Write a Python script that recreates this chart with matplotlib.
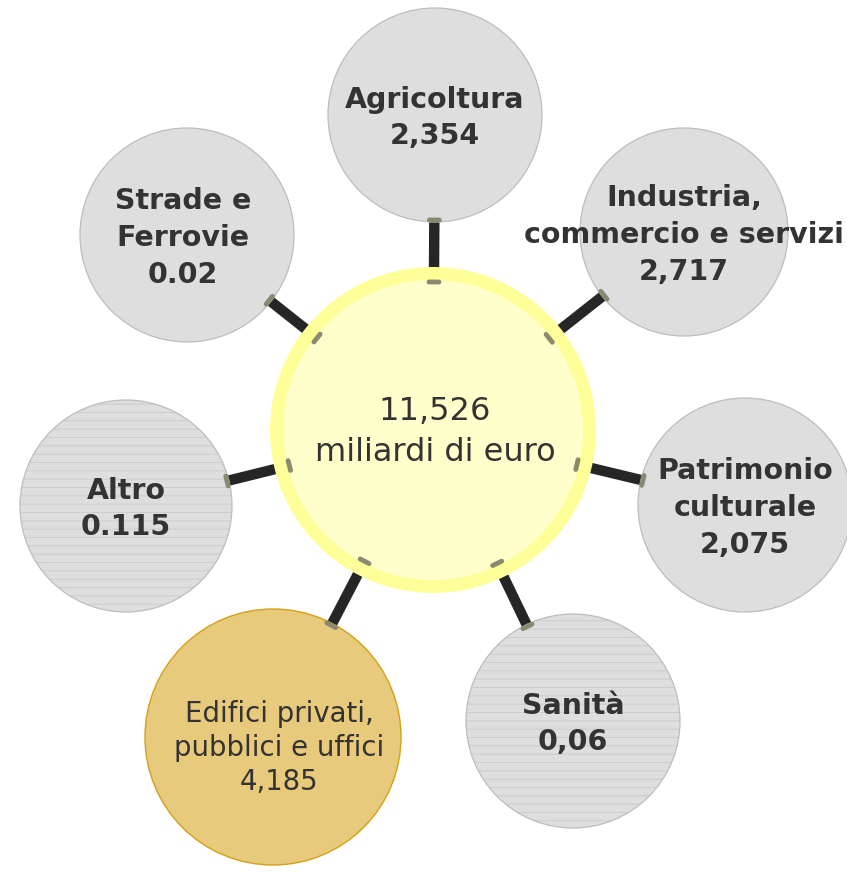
import matplotlib
matplotlib.use("Agg")
import matplotlib.pyplot as plt
from matplotlib.patches import Circle
import numpy as np

# data
total_value = "11,526"
total_unit = "miliardi di euro"
sectors = ["Agricoltura", "Industria,\ncommercio e servizi", "Patrimonio\nculturale",
           "Sanità", "Edifici privati,\npubblici e uffici", "Altro", "Strade e\nFerrovie"]
amounts = ["2,354", "2,717", "2,075", "0,06", "4,185", "0.115", "0.02"]

# layout (pixel space of the picture)
center = (433, 430)
center_r = 163
sat_pos = [(435, 115), (684, 232), (745, 505), (573, 721), (273, 737), (126, 506), (187, 235)]
sat_r = [107, 104, 107, 107, 128, 106, 107]
text_off = [(0, 3), (0, 3), (0, 3), (0, 3), (6, 11), (0, 3), (-4, 3)]
hatched = [False, False, False, True, False, True, False]
highlight = 4

W, H = 847, 873
fig = plt.figure(figsize=(W / 100, H / 100), dpi=100)
ax = fig.add_axes([0, 0, 1, 1])
ax.set_xlim(0, W)
ax.set_ylim(H, 0)
ax.set_aspect("equal")
ax.axis("off")
plt.rcParams["hatch.linewidth"] = 0.6

txt = "#333333"

# sticks
for (x, y), r in zip(sat_pos, sat_r):
    dx, dy = x - center[0], y - center[1]
    d = np.hypot(dx, dy)
    ux, uy = dx / d, dy / d
    p0 = (center[0] + ux * (center_r - 4), center[1] + uy * (center_r - 4))
    p1 = (x - ux * (r - 4), y - uy * (r - 4))
    ax.plot([p0[0], p1[0]], [p0[1], p1[1]], color="#262626", lw=7.5,
            solid_capstyle="butt", zorder=1)
    # small caps at both ends
    for (cx, cy), off, sgn in [((x, y), r - 2, -1), (center, center_r - 15, 1)]:
        ex = cx + sgn * ux * off
        ey = cy + sgn * uy * off
        ax.plot([ex - uy * 5, ex + uy * 5], [ey + ux * 5, ey - ux * 5],
                color="#8a8a70", lw=3.5, solid_capstyle="round", zorder=4)

# center circle
ax.add_patch(Circle(center, center_r, facecolor="#FFFF99", edgecolor="none", zorder=2))
ax.add_patch(Circle(center, center_r - 13, facecolor="#FFFFCC", edgecolor="none", zorder=3))
ax.text(center[0] + 2, center[1] + 2, total_value + "\n" + total_unit, ha="center", va="center",
        fontsize=23, color=txt, linespacing=1.4, zorder=5)

# satellites
for i, ((x, y), r) in enumerate(zip(sat_pos, sat_r)):
    tx, ty = x + text_off[i][0], y + text_off[i][1]
    if i == highlight:
        ax.add_patch(Circle((x, y), r, facecolor="#E8CA7C", edgecolor="#D4A017",
                            lw=1.0, zorder=2))
        ax.text(tx, ty, sectors[i] + "\n" + amounts[i], ha="center", va="center",
                fontsize=19.8, color=txt, linespacing=1.27, zorder=5)
        continue
    ax.add_patch(Circle((x, y), r, facecolor="#DEDEDE", edgecolor="none", zorder=2))
    if hatched[i]:
        ax.add_patch(Circle((x, y), r, facecolor="none", edgecolor="#CACACA",
                            hatch="--", lw=0, zorder=2))
    ax.add_patch(Circle((x, y), r, facecolor="none", edgecolor="#BDBDBD", lw=0.9, zorder=2))
    ax.text(tx, ty, sectors[i] + "\n" + amounts[i], ha="center", va="center",
            fontsize=20.5, fontweight="bold", color=txt, linespacing=1.4, zorder=5)

fig.savefig("out.png", dpi=100)
